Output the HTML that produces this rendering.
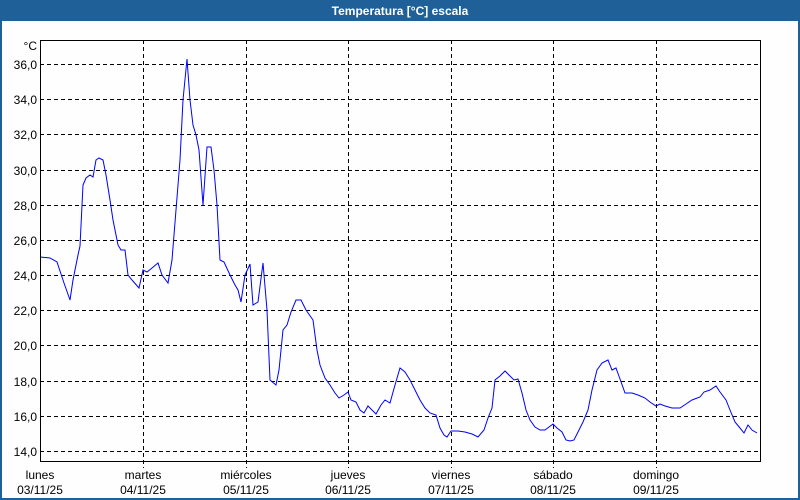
<!DOCTYPE html>
<html><head><meta charset="utf-8"><style>
html,body{margin:0;padding:0;background:#fff;}
svg{display:block;font-family:"Liberation Sans",sans-serif;}
</style></head><body>
<svg width="800" height="500" xmlns="http://www.w3.org/2000/svg">
<rect x="0" y="0" width="800" height="500" fill="#fdfefd"/>
<rect x="0" y="0" width="800" height="21" fill="#1e6097"/>
<rect x="0" y="0" width="2" height="500" fill="#1e6097"/>
<rect x="798" y="0" width="2" height="500" fill="#1e6097"/>
<rect x="0" y="498" width="800" height="2" fill="#1e6097"/>
<text x="400" y="15" fill="#fff" font-size="12" font-weight="bold" text-anchor="middle">Temperatura [°C] escala</text>
<g stroke="#000" stroke-width="1" stroke-dasharray="4,3" fill="none">
<line x1="40" x2="760" y1="64.5" y2="64.5"/><line x1="40" x2="760" y1="99.5" y2="99.5"/>
<line x1="40" x2="760" y1="134.5" y2="134.5"/><line x1="40" x2="760" y1="170.5" y2="170.5"/>
<line x1="40" x2="760" y1="205.5" y2="205.5"/><line x1="40" x2="760" y1="240.5" y2="240.5"/>
<line x1="40" x2="760" y1="275.5" y2="275.5"/><line x1="40" x2="760" y1="310.5" y2="310.5"/>
<line x1="40" x2="760" y1="345.5" y2="345.5"/><line x1="40" x2="760" y1="381.5" y2="381.5"/>
<line x1="40" x2="760" y1="416.5" y2="416.5"/><line x1="40" x2="760" y1="451.5" y2="451.5"/>
<line x1="143.5" x2="143.5" y1="40" y2="468"/><line x1="246.5" x2="246.5" y1="40" y2="468"/>
<line x1="348.5" x2="348.5" y1="40" y2="468"/><line x1="451.5" x2="451.5" y1="40" y2="468"/>
<line x1="553.5" x2="553.5" y1="40" y2="468"/><line x1="656.5" x2="656.5" y1="40" y2="468"/>
</g>
<polyline fill="none" stroke="#0000ff" stroke-width="1" points="40,257 50,258 57,262 64,283 70,300 73,280 78,255 80,246 83,185 86,178 90,175 93,177 96,160 99,158 103,160 106,175 110,200 113,220 118,245 121,250 125,250 128,275 132,280 139,288 143,270 147,272 152,268 158,263 162,275 168,283 172,260 176,210 180,160 183,100 187,59 190,100 193,125 196,135 199,150 203,205 207,147 211,147 214,170 217,205 220,260 224,262 230,275 235,285 238,290 241,302 245,275 250,264 253,305 258,302 263,263 267,310 270,380 276,385 279,370 283,330 287,325 291,312 296,300 301,300 306,310 313,320 317,350 320,365 325,378 330,385 335,393 339,398 344,395 348,392 351,400 356,402 360,410 364,413 368,406 372,410 376,414 381,405 385,400 390,403 395,385 400,368 405,372 410,380 415,390 420,400 425,408 430,413 436,415 440,428 444,435 447,437 451,431 458,431 465,432 472,434 478,437 484,430 488,418 492,408 495,380 500,376 505,371 510,376 514,380 518,379 522,393 526,410 530,420 535,427 540,430 545,430 549,427 553,424 557,428 562,432 566,440 570,441 574,440 578,432 583,422 588,410 592,390 597,370 602,363 608,360 612,370 616,368 620,379 625,393 632,393 638,395 645,398 650,402 656,406 660,404 665,406 672,408 680,408 686,404 692,400 700,397 704,392 710,390 716,386 720,392 726,400 730,410 735,422 740,428 744,433 748,425 752,430 757,433"/>
<rect x="40.5" y="40.5" width="720" height="421" fill="none" stroke="#000" stroke-width="1"/>
<g font-size="12" fill="#000" text-anchor="end">
<text x="37" y="50">°C</text>
<text x="37" y="69">36,0</text><text x="37" y="104">34,0</text><text x="37" y="139">32,0</text>
<text x="37" y="175">30,0</text><text x="37" y="210">28,0</text><text x="37" y="245">26,0</text>
<text x="37" y="280">24,0</text><text x="37" y="315">22,0</text><text x="37" y="350">20,0</text>
<text x="37" y="386">18,0</text><text x="37" y="421">16,0</text><text x="37" y="456">14,0</text>
</g>
<g font-size="12" fill="#000" text-anchor="middle">
<text x="40" y="479">lunes</text><text x="40" y="494">03/11/25</text>
<text x="143" y="479">martes</text><text x="143" y="494">04/11/25</text>
<text x="246" y="479">miércoles</text><text x="246" y="494">05/11/25</text>
<text x="348" y="479">jueves</text><text x="348" y="494">06/11/25</text>
<text x="451" y="479">viernes</text><text x="451" y="494">07/11/25</text>
<text x="553" y="479">sábado</text><text x="553" y="494">08/11/25</text>
<text x="656" y="479">domingo</text><text x="656" y="494">09/11/25</text>
</g>
</svg>
</body></html>
